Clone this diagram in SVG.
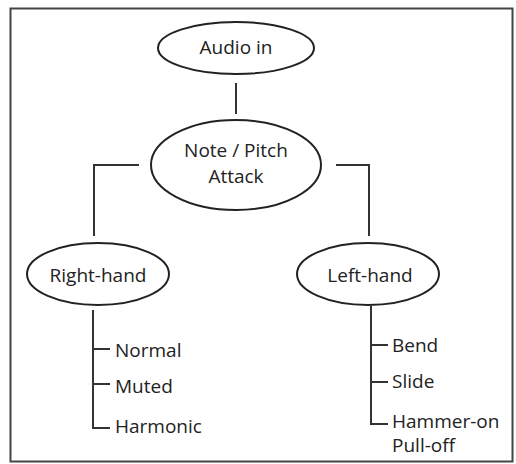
<svg xmlns="http://www.w3.org/2000/svg" width="516" height="464" viewBox="0 0 516 464">
<style>
.n{fill:#fff;stroke:#222;stroke-width:2}
.c{fill:none;stroke:#333;stroke-width:2}
text{font-family:"Open Sans","Liberation Sans",sans-serif;font-size:19px;fill:#222}
.m{text-anchor:middle}
</style>
<rect x="10.5" y="8.5" width="502" height="453" fill="#fff" stroke="#444" stroke-width="2"/>
<g id="connectors" class="c">
<line x1="236" y1="83" x2="236" y2="114"/>
<polyline points="139,165 94,165 94,236"/>
<polyline points="336,165 369,165 369,236"/>
<polyline points="93,310 93,428 110,428"/>
<line x1="93" y1="349" x2="110" y2="349"/>
<line x1="93" y1="384" x2="110" y2="384"/>
<polyline points="371,306 371,424 388,424"/>
<line x1="371" y1="345" x2="388" y2="345"/>
<line x1="371" y1="382" x2="388" y2="382"/>
</g>
<g id="audio-in"><ellipse class="n" cx="236" cy="48" rx="78" ry="26"/><text class="m" x="236" y="54">Audio in</text></g>
<g id="note-pitch"><ellipse class="n" cx="236" cy="165" rx="85" ry="45"/><text class="m" x="236" y="157">Note / Pitch</text><text class="m" x="236" y="183">Attack</text></g>
<g id="right-hand"><ellipse class="n" cx="98" cy="274" rx="71" ry="31"/><text class="m" x="98" y="282">Right-hand</text></g>
<g id="left-hand"><ellipse class="n" cx="368" cy="274" rx="71" ry="31"/><text class="m" x="370" y="282">Left-hand</text></g>
<g id="normal"><text x="115" y="357">Normal</text></g>
<g id="muted"><text x="115" y="393">Muted</text></g>
<g id="harmonic"><text x="115" y="433">Harmonic</text></g>
<g id="bend"><text x="392" y="352">Bend</text></g>
<g id="slide"><text x="392" y="388">Slide</text></g>
<g id="hammer-on"><text x="392" y="428">Hammer-on</text><text x="392" y="452">Pull-off</text></g>
</svg>
